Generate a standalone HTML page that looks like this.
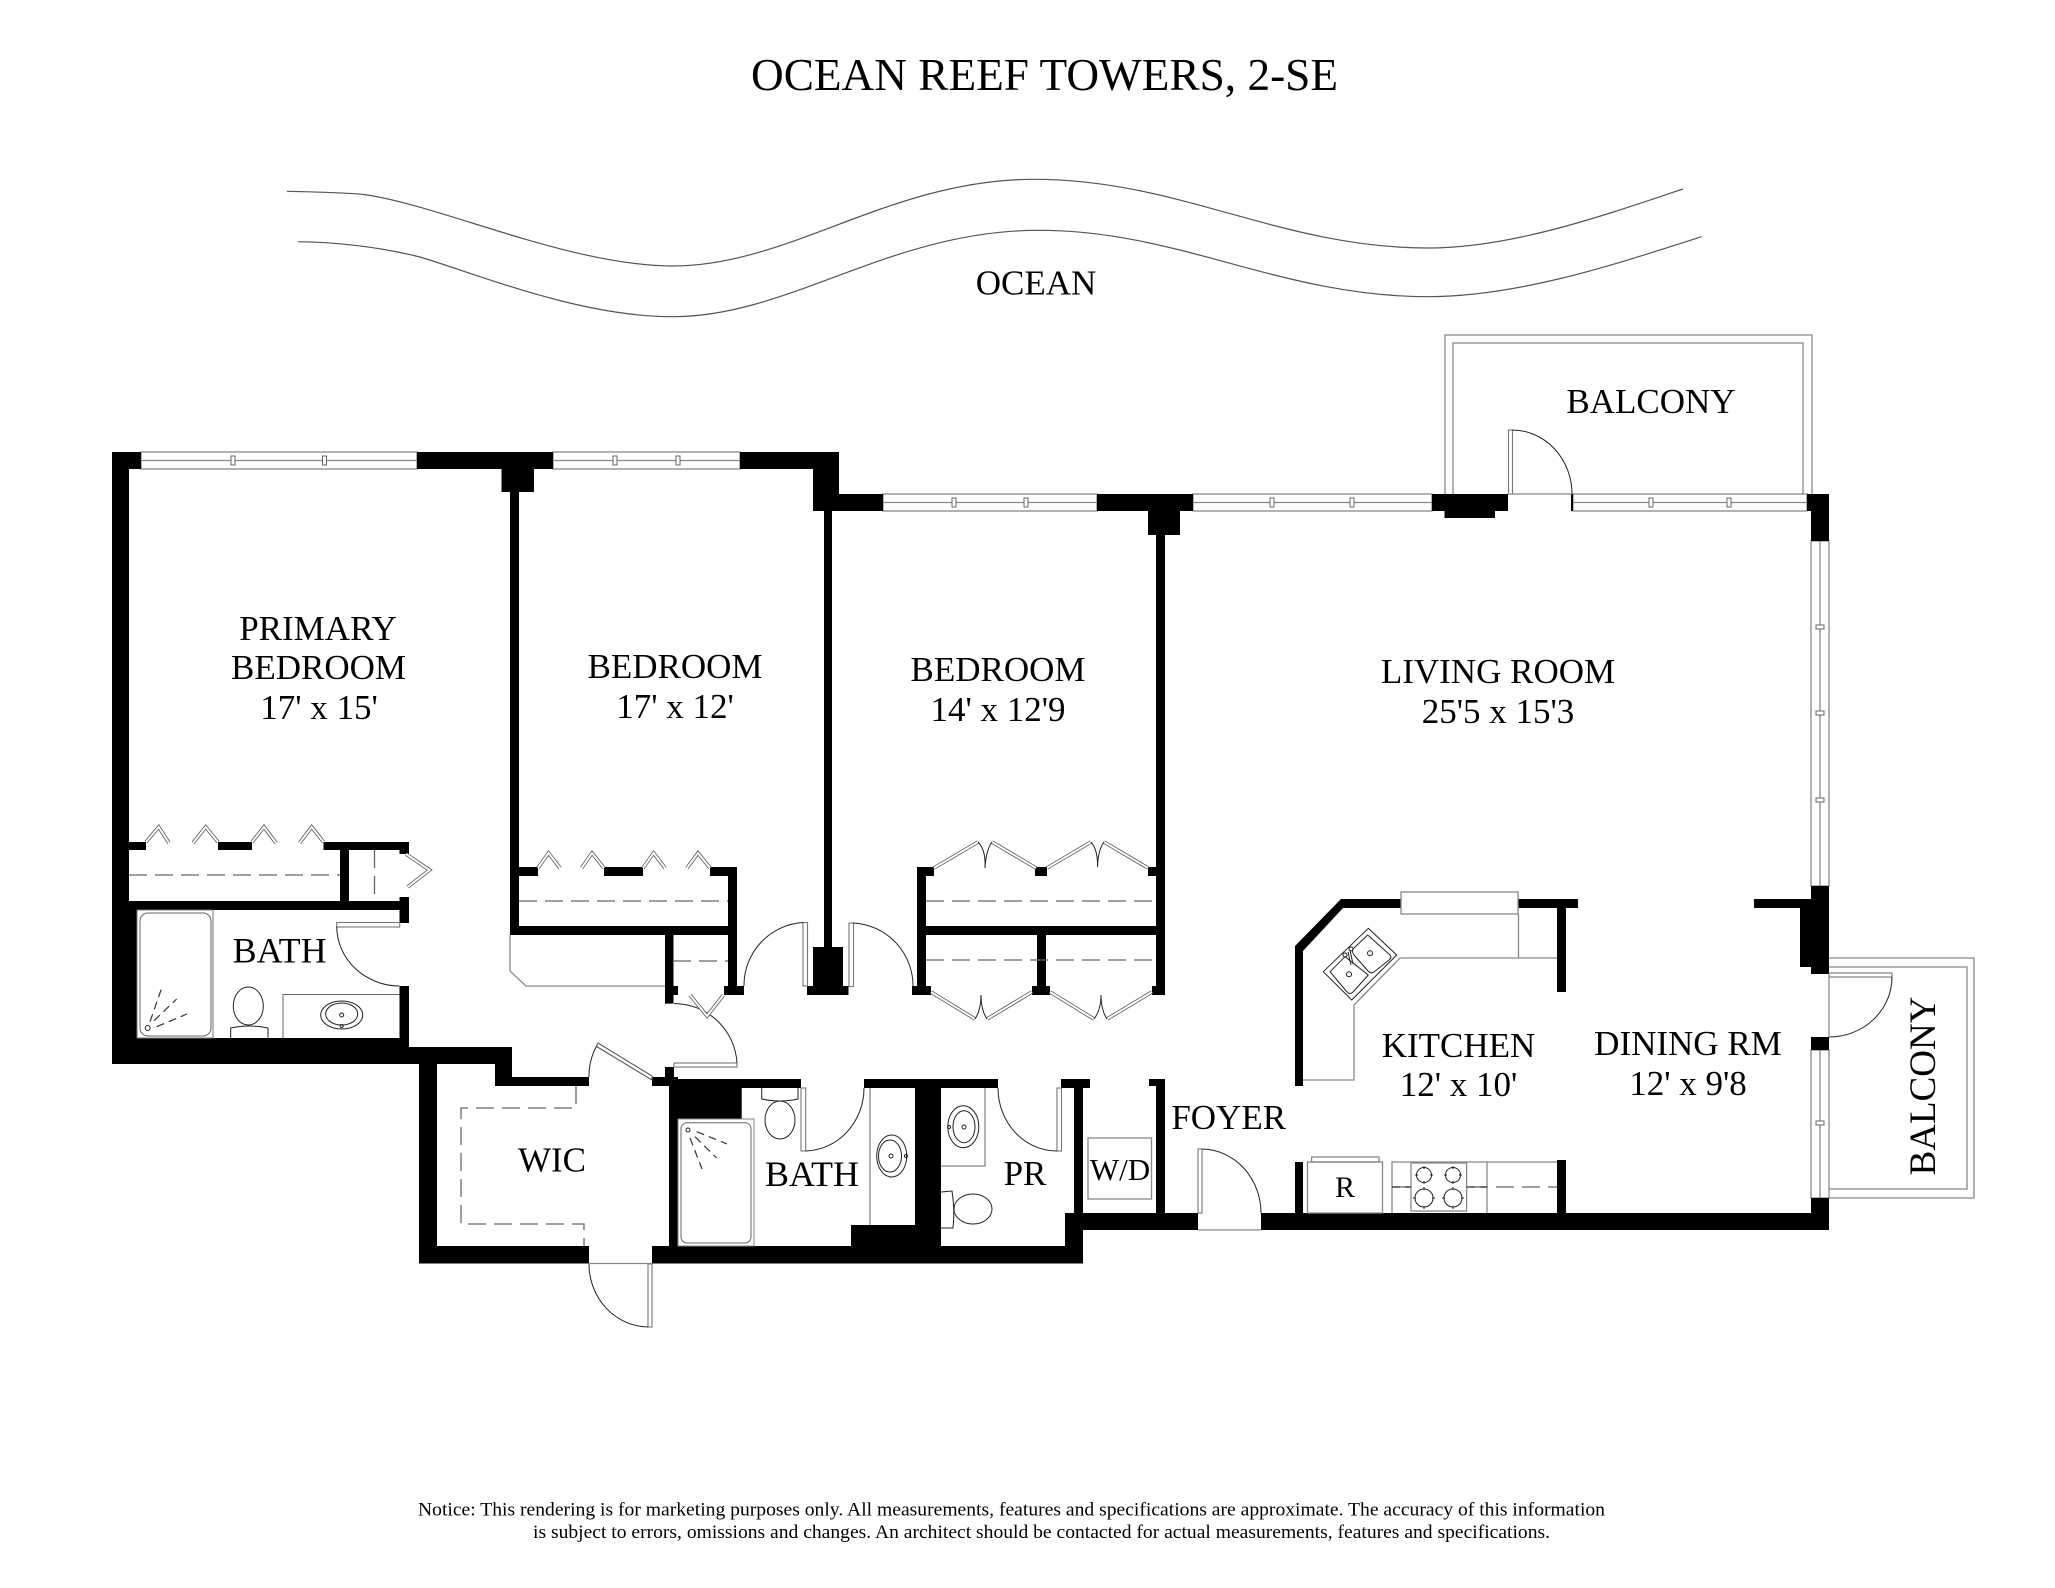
<!DOCTYPE html>
<html><head><meta charset="utf-8"><title>Ocean Reef Towers, 2-SE</title>
<style>
html,body{margin:0;padding:0;background:#fff}
svg{display:block}
text{font-family:"Liberation Serif",serif;fill:#000;text-anchor:middle;font-size:35px}
.l{fill:none;stroke:#555;stroke-width:1.2;stroke-linejoin:round}
.g{fill:none;stroke:#888;stroke-width:1.3}
.k{fill:none;stroke:#222;stroke-width:1}
.d{fill:none;stroke:#666;stroke-width:1.3;stroke-dasharray:18 8}
.dk{fill:none;stroke:#333;stroke-width:1.2;stroke-dasharray:8 5}
.o{fill:none;stroke:#555;stroke-width:3.6}
.i{fill:none;stroke:#fff;stroke-width:2}
.m{fill:#fff;stroke:#666;stroke-width:1}
.w{fill:#fff;stroke:#888;stroke-width:1.3}
</style></head><body>
<svg width="2055" height="1588" viewBox="0 0 2055 1588" xmlns="http://www.w3.org/2000/svg">
<rect width="2055" height="1588" fill="#fff"/>

<text x="751" y="90" style="font-size:45.5px;text-anchor:start" textLength="587" lengthAdjust="spacingAndGlyphs">OCEAN REEF TOWERS, 2-SE</text>

<path class="l" d="M287 191.300C315 192 345 192.500 364 194.500C440 205 570 266 673 266C790 266 890 179.300 1034 179.300C1180 179.300 1280 248 1428 248C1510 248 1600 217 1683 189"/>
<path class="l" d="M298 241.700C335 242 380 247 420 257C480 275 580 316.700 673 316.700C790 316.700 890 230.300 1039 230.300C1180 230.300 1280 296.700 1428 296.700C1520 296.700 1620 262.700 1701.600 236.700"/>
<text x="1036" y="294.500">OCEAN</text>

<!-- balconies -->
<path class="g" d="M1445 494V335H1812V494M1453 494V343H1803V494"/>
<path class="g" d="M1829 958H1974V1198H1829M1829 967H1967V1189H1829"/>

<!-- windows -->
<g class="w">
<rect x="141" y="452" width="276" height="17"/>
<rect x="553" y="452" width="187" height="17"/>
<rect x="883" y="494" width="214" height="17"/>
<rect x="1193" y="494" width="239" height="17"/>
<rect x="1573" y="494" width="234" height="17"/>
<rect x="1811" y="541" width="18" height="345"/>
<rect x="1811" y="1050" width="18" height="148"/>
</g>
<path class="g" d="M141 460.500H417M553 460.500H740M883 502.500H1097M1193 502.500H1432M1573 502.500H1807M1820 541V886M1820 1050V1198"/>
<g class="m">
<rect x="231" y="456" width="4" height="9"/><rect x="322.500" y="456" width="4" height="9"/>
<rect x="613" y="456" width="4" height="9"/><rect x="676" y="456" width="4" height="9"/>
<rect x="952" y="498" width="4" height="9"/><rect x="1024" y="498" width="4" height="9"/>
<rect x="1270" y="498" width="4" height="9"/><rect x="1350" y="498" width="4" height="9"/>
<rect x="1649" y="498" width="4" height="9"/><rect x="1727" y="498" width="4" height="9"/>
<rect x="1816" y="625" width="8" height="4"/><rect x="1816" y="711" width="8" height="4"/><rect x="1816" y="798" width="8" height="4"/>
<rect x="1816" y="1121" width="8" height="4"/>
</g>

<!-- walls -->
<g fill="#000">
<rect x="112" y="452" width="17" height="612"/><rect x="112" y="901" width="25" height="163"/>
<rect x="112" y="452" width="29" height="17"/>
<rect x="417" y="452" width="136" height="17"/><rect x="501.500" y="469" width="32.500" height="23"/><rect x="510" y="492" width="9" height="443"/>
<rect x="740" y="452" width="99" height="17"/><rect x="813" y="469" width="26" height="42"/><rect x="839" y="494" width="44" height="17"/>
<rect x="824" y="511" width="8" height="436"/><rect x="813" y="947" width="30" height="40"/><rect x="807" y="986" width="41.500" height="9"/>
<rect x="129" y="842" width="17" height="8"/><rect x="218" y="842" width="34" height="8"/><rect x="323.500" y="842" width="85.500" height="8"/>
<rect x="340" y="850" width="9" height="51"/><rect x="399.500" y="850" width="9.500" height="4"/>
<rect x="129" y="901" width="280" height="9"/><rect x="399.500" y="897" width="9.500" height="26"/><rect x="399.500" y="986" width="9.500" height="61"/>
<rect x="112" y="1038" width="297" height="26"/><rect x="409" y="1047" width="103" height="17"/><rect x="495" y="1064" width="17" height="22"/>
<rect x="495" y="1077" width="94" height="9"/><rect x="419" y="1064" width="18" height="199"/><rect x="419" y="1246" width="170" height="17.500"/>
<rect x="652" y="1246" width="431" height="17.500"/><rect x="669" y="1079" width="9" height="167"/><rect x="652" y="1077" width="26" height="9"/><rect x="665" y="1067" width="9" height="12"/>
<rect x="669" y="1079" width="72.700" height="40"/><rect x="741" y="1079" width="60" height="9"/>
<rect x="864" y="1079" width="134" height="9"/><rect x="915" y="1079" width="26" height="167"/><rect x="851" y="1225" width="64" height="21"/>
<rect x="1061" y="1079" width="29" height="9"/><rect x="1074" y="1088" width="9" height="125"/><rect x="1065" y="1213" width="18" height="50"/>
<rect x="1065" y="1213" width="133" height="17"/><rect x="1149" y="1079" width="16" height="7"/><rect x="1156" y="1086" width="9" height="127"/>
<rect x="1261" y="1213" width="568" height="17"/>
<rect x="510" y="926" width="227" height="9"/><rect x="519" y="867" width="19" height="9"/><rect x="604" y="867" width="39" height="9"/><rect x="710" y="867" width="27" height="9"/>
<rect x="728" y="876" width="9" height="119"/><rect x="665" y="935" width="8.500" height="68.600"/><rect x="665" y="986" width="13" height="9"/><rect x="724" y="986" width="20" height="9"/>
<rect x="1097" y="494" width="96" height="17"/><rect x="1148" y="511" width="32" height="24"/><rect x="1156" y="535" width="9" height="460"/>
<rect x="917" y="867" width="9" height="128"/><rect x="917" y="867" width="17" height="9"/><rect x="1035" y="867" width="12" height="9"/><rect x="1148" y="867" width="8" height="9"/>
<rect x="917" y="926" width="239" height="9"/><rect x="1037" y="935" width="9" height="52"/><rect x="1032" y="986" width="18" height="9"/><rect x="912" y="986" width="19" height="9"/><rect x="1152" y="986" width="13" height="9"/>
<rect x="1432" y="494" width="76" height="17"/><rect x="1444.500" y="511" width="50.500" height="7"/>
<rect x="1807" y="494" width="22" height="17"/><rect x="1811" y="511" width="18" height="30"/><rect x="1811" y="886" width="18" height="88"/><rect x="1800" y="908" width="11" height="59"/><rect x="1754" y="899" width="57" height="9"/>
<rect x="1811" y="1037" width="18" height="13"/><rect x="1811" y="1198" width="18" height="15"/><rect x="1571" y="494" width="2" height="17"/>
<polygon points="1341,899 1401,899 1401,908 1343,908 1303,951 1303,1086 1295,1086 1295,946"/>
<rect x="1518" y="899" width="60" height="9"/><rect x="1557" y="908" width="9" height="84"/><rect x="1295" y="1162" width="8" height="51"/><rect x="1557" y="1160" width="9" height="53"/>
</g>

<!-- door leaves -->
<g fill="#fff" stroke="#777" stroke-width="1.1">
<rect x="336.700" y="922.500" width="63" height="4.500"/>
<rect x="803" y="922.500" width="4.500" height="63.500"/>
<rect x="849" y="923" width="4.500" height="63.500"/>
<rect x="674" y="1063" width="63" height="4"/>
<rect x="648" y="1264" width="4" height="63"/>
<rect x="1198" y="1149" width="4" height="64"/>
<rect x="1508.500" y="430" width="4" height="64"/>
<rect x="1829" y="973" width="63" height="4"/>
<rect x="801" y="1088" width="4.700" height="63"/>
<rect x="1057" y="1088" width="4.500" height="63"/>
</g>
<polygon points="596.400,1046.400 652,1080 652,1076 598,1043" fill="#fff" stroke="#555" stroke-width="1.1"/>

<!-- door arcs -->
<g class="k">
<path d="M803 922.500A63 63 0 0 0 744 986"/>
<path d="M853 923A63 63 0 0 1 913 987"/>
<path d="M336.700 926.700A63 60 0 0 0 399.300 986"/>
<path d="M589 1077A63 63 0 0 1 596.400 1046.400"/>
<path d="M674 1003.600A63 63 0 0 1 737 1063"/>
<path d="M589 1264A60 63 0 0 0 648 1327"/>
<path d="M1202 1149A60 64 0 0 1 1261 1213"/>
<path d="M1512 430A60 64 0 0 1 1572 494"/>
<path d="M1892 977A63 60 0 0 1 1829 1037"/>
<path d="M805.700 1151A60 63 0 0 0 864 1088"/>
<path d="M1057 1151A59 63 0 0 1 998 1088"/>
</g>
<path class="g" d="M589 1263.500H652M1198 1230H1261M1513 494H1572M1829 974V1037"/>

<!-- bifold doors -->
<g class="o">
<path d="M146 842L158.700 827L169 843M193 843L205.600 827L218 842M252 842L264 827L276 843M299.500 843L311.700 827L323.500 842"/>
<path d="M538 868L548.500 853L560 868M581.600 868L592 853L604 868M643 868L653.600 853L665 868M687 868L698 853L710 868"/>
<path d="M934 868L978 842M992 842L1036 868M1047 868L1091 842M1104 842L1148 868"/>
<path d="M931 992L975 1019M987 1019L1032 992M1050 992L1094 1019M1107 1019L1152 992"/>
<path d="M406 854L429.600 870L407.600 887"/>
<path d="M690 995L707 1016L723.500 995"/>
</g>
<g class="i">
<path d="M146 842L158.700 827L169 843M193 843L205.600 827L218 842M252 842L264 827L276 843M299.500 843L311.700 827L323.500 842"/>
<path d="M538 868L548.500 853L560 868M581.600 868L592 853L604 868M643 868L653.600 853L665 868M687 868L698 853L710 868"/>
<path d="M934 868L978 842M992 842L1036 868M1047 868L1091 842M1104 842L1148 868"/>
<path d="M931 992L975 1019M987 1019L1032 992M1050 992L1094 1019M1107 1019L1152 992"/>
<path d="M406 854L429.600 870L407.600 887"/>
<path d="M690 995L707 1016L723.500 995"/>
</g>
<g class="k">
<path d="M978 842Q986 850 985 868M992 842Q986 850 985 868M1091 842Q1098 850 1097.500 867M1104 842Q1098 850 1097.500 867"/>
<path d="M975 1019Q981 1010 981 995M987 1019Q981 1010 981 995M1094 1019Q1101 1010 1101 995M1107 1019Q1101 1010 1101 995"/>
</g>

<!-- closet dashes and counters -->
<path class="d" d="M129 875H340M519 901H728M926 901H1156M926 960H1156"/>
<path class="d" d="M374.500 850V901M673 961H728M1392 1187H1557"/>
<path class="d" d="M576 1086V1108H461V1224H584V1246"/>
<path class="g" d="M510 935V971L526 986H665"/>
<path class="g" d="M1303 1080H1354V1005L1400 958H1557M1518.500 914V958"/>
<rect x="1401" y="892" width="117" height="22" fill="#fff" stroke="#888" stroke-width="1.3"/>

<!-- kitchen fixtures -->
<g class="k" stroke-linejoin="round">
<polygon points="1368.300,928.300 1396.700,955 1351.700,1000 1323.300,971.700"/>
<path d="M1367.700 935L1390 955Q1392 958 1389 960L1374 972Q1371 974 1368 971L1354 955Q1351 951 1354 948Z"/>
<path d="M1330 971.700L1345 956.700L1368.300 975L1353 992Q1350 995 1347 992Z"/>
<circle cx="1370" cy="953.300" r="2.500"/><circle cx="1349" cy="974.300" r="2.500"/>
<circle cx="1345" cy="955" r="2"/><circle cx="1351" cy="949" r="2"/>
<path d="M1348 952L1351 965M1350 950L1353 964"/>
</g>
<g class="g">
<rect x="1307.500" y="1162" width="75" height="51"/>
<rect x="1311.600" y="1157" width="67.400" height="5"/>
<path d="M1392 1213V1162H1557M1487 1162V1213"/>
<rect x="1411" y="1163" width="55.600" height="48" fill="#fff"/>
</g>
<path class="dk" d="M1392 1187H1411M1466.600 1187H1487" stroke-dasharray="14 8"/>
<g class="k" stroke-width="0.8">
<circle cx="1424" cy="1175" r="7.500"/><circle cx="1453" cy="1175" r="7.500"/>
<circle cx="1424" cy="1198" r="9"/><circle cx="1453" cy="1198" r="9"/>
<path d="M1424 1166v3M1424 1181v3M1415 1175h3M1430 1175h3M1453 1166v3M1453 1181v3M1444 1175h3M1459 1175h3M1424 1187v3M1424 1206v3M1413 1198h3M1432 1198h3M1453 1187v3M1453 1206v3M1442 1198h3M1461 1198h3"/>
</g>
<rect x="1088" y="1138" width="63.500" height="61" fill="none" stroke="#888" stroke-width="1.3"/>

<!-- primary bath -->
<g class="k">
<rect x="137" y="910" width="76" height="128" fill="none" stroke="#777"/>
<rect x="140" y="913" width="71" height="123" rx="8" fill="none" stroke="#666"/>
<circle cx="147.700" cy="1028" r="2.500"/>
<path class="dk" d="M150 1021.700L161.700 988M154 1020.700L176.700 999M156.700 1026.700L187 1014"/>
<ellipse cx="248.300" cy="1006" rx="15" ry="19"/>
<path d="M230.700 1038V1028Q249 1024 268 1028V1038"/>
<path d="M283 1038V994.500H399.500" stroke="#666"/>
<ellipse cx="341.700" cy="1015" rx="21" ry="14"/><ellipse cx="341.700" cy="1014" rx="16" ry="11"/><circle cx="341.700" cy="1015" r="2"/><circle cx="341.700" cy="1026" r="1.500"/>
</g>

<!-- second bath -->
<g class="k">
<rect x="678" y="1119" width="76" height="127" fill="#fff" stroke="#888"/>
<rect x="681" y="1122.700" width="70" height="120.300" rx="6" fill="none" stroke="#666"/>
<circle cx="688" cy="1130" r="2"/>
<path class="dk" d="M696.700 1131.700L727 1144M695 1136.700L716.700 1158M690 1138L702 1169"/>
<path d="M761.700 1088V1099Q780 1103 798 1099V1088"/>
<ellipse cx="780" cy="1120" rx="15" ry="19"/>
<path d="M870 1088V1225" stroke="#666"/>
<ellipse cx="891.700" cy="1156" rx="15" ry="21"/><ellipse cx="890" cy="1156" rx="11.500" ry="16"/><circle cx="891" cy="1156" r="2"/><circle cx="906" cy="1156" r="1.500"/>
<path d="M985 1088V1166H941" stroke="#666"/>
<ellipse cx="963.300" cy="1126.700" rx="15.500" ry="21"/><ellipse cx="964" cy="1126.700" rx="11" ry="16"/><circle cx="964" cy="1127" r="2"/><circle cx="949" cy="1127" r="1.500"/>
<ellipse cx="973" cy="1209" rx="19" ry="15"/>
<path d="M941 1192L952 1191Q955 1210 953 1228L941 1228"/>
</g>

<!-- labels -->
<text x="318" y="640">PRIMARY</text>
<text x="318.500" y="679">BEDROOM</text>
<text x="319" y="719">17' x 15'</text>
<text x="675" y="678">BEDROOM</text>
<text x="675" y="718">17' x 12'</text>
<text x="998" y="681">BEDROOM</text>
<text x="998" y="721">14' x 12'9</text>
<text x="1498" y="683">LIVING ROOM</text>
<text x="1498" y="723">25'5 x 15'3</text>
<text x="1651" y="413">BALCONY</text>
<text x="1458.500" y="1057">KITCHEN</text>
<text x="1458.500" y="1096">12' x 10'</text>
<text x="1688" y="1055">DINING RM</text>
<text x="1688" y="1095">12' x 9'8</text>
<text x="1345" y="1197" style="font-size:30px">R</text>
<text x="1120" y="1180" style="font-size:31px">W/D</text>
<text x="1228.700" y="1129">FOYER</text>
<text x="1025" y="1185">PR</text>
<text x="279.600" y="962.500" style="font-size:36px">BATH</text>
<text x="812" y="1186" style="font-size:36px">BATH</text>
<text x="552" y="1171.500" style="font-size:35px">WIC</text>
<text transform="translate(1935,1086) rotate(-90)" x="0" y="0" style="font-size:37px">BALCONY</text>

<text x="418" y="1515.700" style="font-size:18.500px;text-anchor:start" textLength="1187" lengthAdjust="spacingAndGlyphs">Notice: This rendering is for marketing purposes only. All measurements, features and specifications are approximate. The accuracy of this information</text>
<text x="533" y="1538" style="font-size:18.500px;text-anchor:start" textLength="1017" lengthAdjust="spacingAndGlyphs">is subject to errors, omissions and changes. An architect should be contacted for actual measurements, features and specifications.</text>
</svg>
</body></html>
